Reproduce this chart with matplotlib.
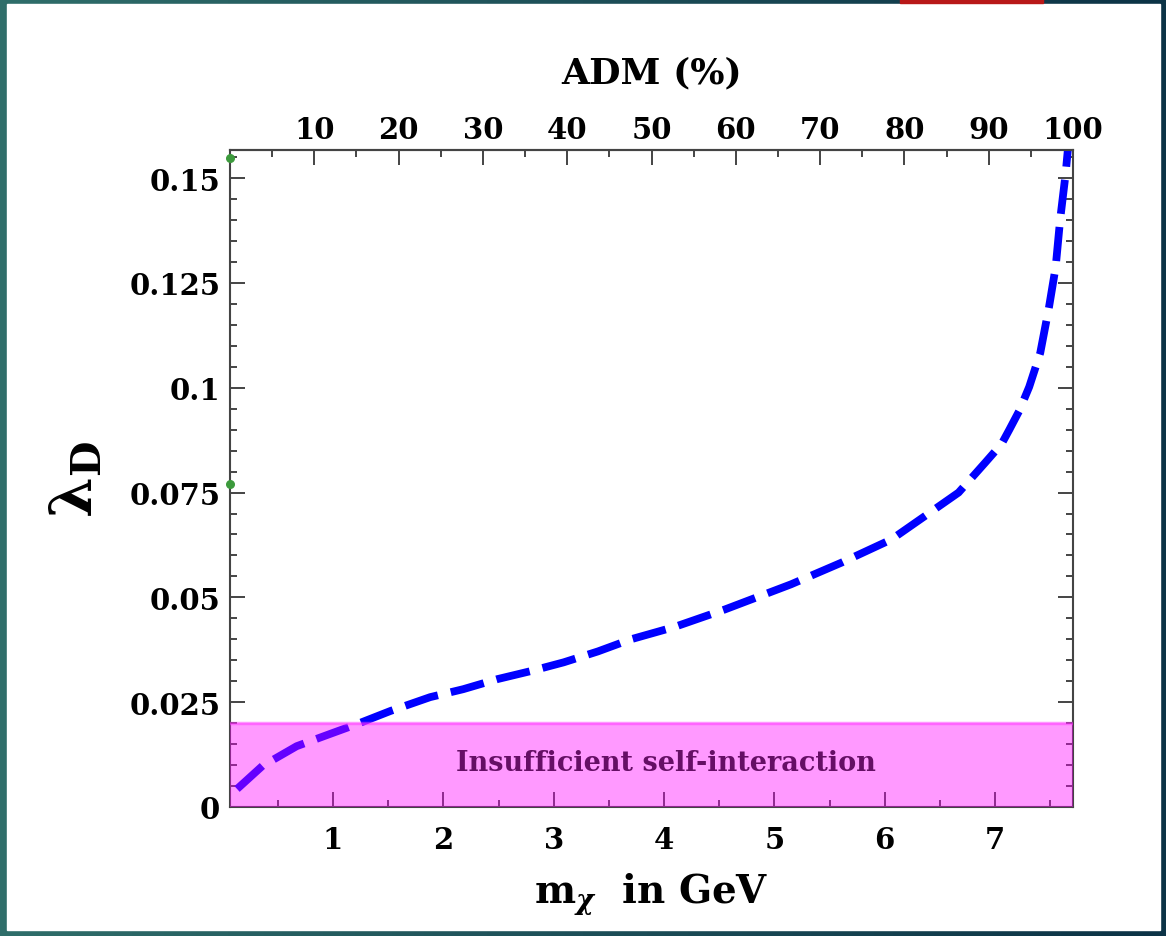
import numpy as np
import matplotlib
matplotlib.use("Agg")
import matplotlib.pyplot as plt
from matplotlib.patches import Rectangle
from matplotlib.ticker import MultipleLocator, FixedLocator, FixedFormatter

plt.rcParams['font.family'] = ['DejaVu Serif']
plt.rcParams['font.weight'] = 'bold'
plt.rcParams['mathtext.fontset'] = 'dejavuserif'

# data
mass = [0.13, 0.36, 0.67, 0.97, 1.22, 1.52, 1.88, 2.18, 2.49, 2.79, 3.09, 3.40,
        3.70, 4.09, 4.55, 5.15, 5.61, 6.06, 6.36, 6.67, 6.91, 7.06, 7.13, 7.22,
        7.31, 7.41, 7.49, 7.55, 7.59, 7.64, 7.66]
lam = [0.0043, 0.0098, 0.0145, 0.0174, 0.0198, 0.0229, 0.0262, 0.0281, 0.0305,
       0.0324, 0.0345, 0.0371, 0.0400, 0.0429, 0.0471, 0.0531, 0.0583, 0.0638,
       0.0693, 0.0750, 0.0821, 0.0866, 0.0900, 0.0945, 0.1002, 0.1083, 0.1193,
       0.1288, 0.1400, 0.1510, 0.1567]
band_top = 0.02
band_text = "Insufficient self-interaction"
y_ticks = [0, 0.025, 0.05, 0.075, 0.1, 0.125, 0.15]
y_labels = ["0", "0.025", "0.05", "0.075", "0.1", "0.125", "0.15"]
x_ticks = [1, 2, 3, 4, 5, 6, 7]
adm_ticks = [10, 20, 30, 40, 50, 60, 70, 80, 90, 100]
dots_y = [0.1548, 0.0771]  # little green dots on the left axis

xmin, xmax = 0.066, 7.707
ymin, ymax = 0.0, 0.1567

fig = plt.figure(figsize=(11.66, 9.37), dpi=100)

# slide background: teal gradient frame, white card, red tab
bg = fig.add_axes([0, 0, 1, 1], zorder=-10)
grad = np.linspace(0, 1, 256).reshape(1, -1)
cmap = matplotlib.colors.LinearSegmentedColormap.from_list(
    "teal", ["#2f6e6a", "#1d4f58", "#0c3346"])
bg.imshow(grad, aspect='auto', cmap=cmap, extent=[0, 1, 0, 1])
bg.add_patch(Rectangle((7 / 1166, 6 / 937), 1153 / 1166, 926 / 937,
                       color='white', transform=bg.transAxes))
bg.add_patch(Rectangle((900 / 1166, 1 - 4 / 937), 143 / 1166, 4 / 937,
                       color='#b81818', transform=bg.transAxes))
bg.set_xlim(0, 1)
bg.set_ylim(0, 1)
bg.axis('off')

ax = fig.add_axes([230 / 1166, 1 - 808 / 937, 843 / 1166, 657 / 937])
ax.set_facecolor('none')

ax.plot(mass, lam, color='#0000ff', lw=5.6, dashes=(4.4, 1.7), zorder=2)

# pink band drawn on top of the curve (semi transparent)
ax.axhspan(0, band_top, color='#ff00ff', alpha=0.4, lw=0, zorder=3)
ax.axhline(band_top, color='#ff33ff', alpha=0.5, lw=2.5, zorder=3)
ax.text(4.02, 0.0107, band_text, color='#650f65', fontsize=19.5,
        fontweight='bold', ha='center', va='center', zorder=4)

ax.scatter([xmin] * len(dots_y), dots_y, s=30, color='#3c9a3c',
           clip_on=False, zorder=5)

ax.set_xlim(xmin, xmax)
ax.set_ylim(ymin, ymax)

ax.xaxis.set_major_locator(FixedLocator(x_ticks))
ax.xaxis.set_minor_locator(MultipleLocator(0.5))
ax.yaxis.set_major_locator(FixedLocator(y_ticks))
ax.yaxis.set_major_formatter(FixedFormatter(y_labels))
ax.yaxis.set_minor_locator(MultipleLocator(0.005))

ax.tick_params(which='both', direction='in', color='#444444', width=1.4,
               top=False, right=True, labelsize=21)
ax.tick_params(which='major', length=11)
ax.tick_params(which='minor', length=5)
ax.tick_params(axis='x', pad=13)
ax.tick_params(axis='y', pad=7)
for s in ax.spines.values():
    s.set_color('#444444')
    s.set_linewidth(1.5)

# top axis: ADM percentage, linear over the mass range
def to_adm(x):
    return (x - xmin) / (xmax - xmin) * 100

def from_adm(p):
    return xmin + p / 100 * (xmax - xmin)

sec = ax.secondary_xaxis('top', functions=(to_adm, from_adm))
sec.xaxis.set_major_locator(FixedLocator(adm_ticks))
sec.xaxis.set_minor_locator(MultipleLocator(5))
sec.tick_params(which='both', direction='in', color='#444444', width=1.4,
                labelsize=21, pad=4)
sec.tick_params(which='major', length=11)
sec.tick_params(which='minor', length=5)
sec.spines['top'].set_color('#444444')
sec.spines['top'].set_linewidth(1.5)
sec.set_xlabel('ADM (%)', fontsize=26, fontweight='bold', labelpad=24)

ax.set_xlabel(r'$\mathbf{m}_{\chi}$  in GeV', fontsize=28, fontweight='bold',
              labelpad=12)
ax.set_ylabel(r'$\mathbf{\lambda}_{\mathbf{D}}$', fontsize=42, labelpad=18)

fig.savefig('out.png', dpi=100)
